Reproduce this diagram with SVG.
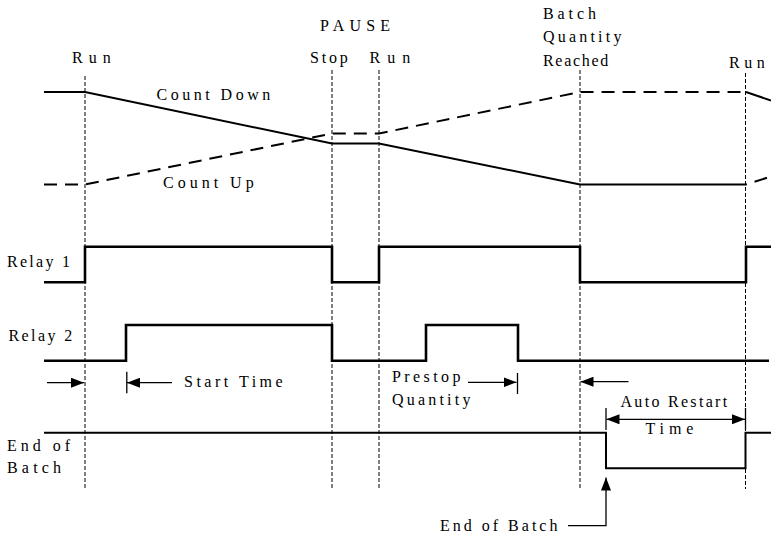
<svg xmlns="http://www.w3.org/2000/svg" width="771" height="534" viewBox="0 0 771 534">
<style>
text{font-family:'Liberation Serif','Times New Roman',serif;font-size:16px;fill:#000}
.grid{stroke:#000;stroke-width:1;stroke-dasharray:4 2;fill:none}
.sig{stroke:#000;stroke-width:2;fill:none;stroke-linejoin:miter}
.relay{stroke:#000;stroke-width:2.6;fill:none;stroke-linejoin:miter}
.dash{stroke:#000;stroke-width:2;fill:none;stroke-dasharray:13 8}
.arr{stroke:#000;stroke-width:1.3;fill:none}
</style>
<defs>
<marker id="ah" viewBox="0 0 13 10" refX="13" refY="5" markerWidth="13" markerHeight="10" orient="auto-start-reverse" markerUnits="userSpaceOnUse"><path d="M0,0 L13,5 L0,10 Z" fill="#000"/></marker>
</defs>
<rect width="771" height="534" fill="#fff"/>
<g id="gridlines">
<line class="grid" x1="85" y1="76" x2="85" y2="489"/>
<line class="grid" x1="332" y1="70" x2="332" y2="489"/>
<line class="grid" x1="379" y1="70" x2="379" y2="489"/>
<line class="grid" x1="580" y1="70" x2="580" y2="489"/>
<line class="grid" x1="745.5" y1="73" x2="745.5" y2="489"/>
</g>
<g id="top-labels">
<text x="72" y="63" letter-spacing="6">Run</text>
<text x="320" y="31" letter-spacing="5.2">PAUSE</text>
<text x="310" y="63" letter-spacing="2.8">Stop</text>
<text x="369.5" y="63" letter-spacing="7">Run</text>
<text x="543" y="19" letter-spacing="3.9">Batch</text>
<text x="543" y="42.3" letter-spacing="3.2">Quantity</text>
<text x="543" y="65.7" letter-spacing="1.7">Reached</text>
<text x="729" y="68" letter-spacing="4.5">Run</text>
</g>
<g id="count-down">
<polyline class="sig" points="44,92 85,92 332,143.5 379,143.5 580,184.5 746,184.5"/>
<polyline class="sig" points="746,92 771,100.5"/>
<text x="156.5" y="100" letter-spacing="3.5">Count Down</text>
</g>
<g id="count-up">
<polyline class="dash" points="44,184.5 85,184.5 332,133.5 379,133.5 580,92 746,92"/>
<polyline class="dash" points="746,184.5 771,176.5" stroke-dashoffset="12"/>
<text x="163" y="188.3" letter-spacing="4">Count Up</text>
</g>
<g id="relay-1">
<text x="7" y="267" letter-spacing="2.3">Relay 1</text>
<polyline class="relay" points="44,282.3 85,282.3 85,246.7 332,246.7 332,282.3 379,282.3 379,246.7 580,246.7 580,282.3 746,282.3 746,246.7 771,246.7"/>
</g>
<g id="relay-2">
<text x="8.5" y="341" letter-spacing="2.4">Relay 2</text>
<polyline class="relay" points="44,360.7 126,360.7 126,325 332,325 332,360.7 426,360.7 426,325 518,325 518,360.7 769,360.7"/>
</g>
<g id="end-of-batch">
<text x="7" y="450.7" letter-spacing="4">End of</text>
<text x="7" y="473.3" letter-spacing="4.2">Batch</text>
<polyline class="sig" points="44,432.7 606,432.7 606,468.3 745.5,468.3 745.5,432.7 771,432.7"/>
</g>
<g id="connectors">
<line class="arr" x1="47" y1="382.7" x2="84" y2="382.7" marker-end="url(#ah)"/>
<line class="arr" x1="172" y1="382.7" x2="127" y2="382.7" marker-end="url(#ah)"/>
<line class="arr" x1="126.8" y1="371.7" x2="126.8" y2="393.3"/>
<line class="arr" x1="468" y1="382.3" x2="516.5" y2="382.3" marker-end="url(#ah)"/>
<line class="arr" x1="517.5" y1="373" x2="517.5" y2="394"/>
<line class="arr" x1="628.5" y1="381.7" x2="580.5" y2="381.7" marker-end="url(#ah)"/>
<line class="arr" x1="606.5" y1="419.3" x2="745" y2="419.3" marker-start="url(#ah)" marker-end="url(#ah)"/>
<line class="arr" x1="606" y1="408" x2="606" y2="430"/>
<line class="arr" x1="745.5" y1="408" x2="745.5" y2="430"/>
<polyline class="arr" points="568,525.7 606,525.7 606,477.5" marker-end="url(#ah)"/>
</g>
<g id="interval-labels">
<text x="184" y="387.3" letter-spacing="3.5">Start Time</text>
<text x="392" y="381.7" letter-spacing="3.4">Prestop</text>
<text x="392" y="405" letter-spacing="3.2">Quantity</text>
<text x="620.5" y="407.3" letter-spacing="2.3">Auto Restart</text>
<text x="645.5" y="434" letter-spacing="4.9">Time</text>
<text x="440" y="530.5" letter-spacing="3">End of Batch</text>
</g>
</svg>
